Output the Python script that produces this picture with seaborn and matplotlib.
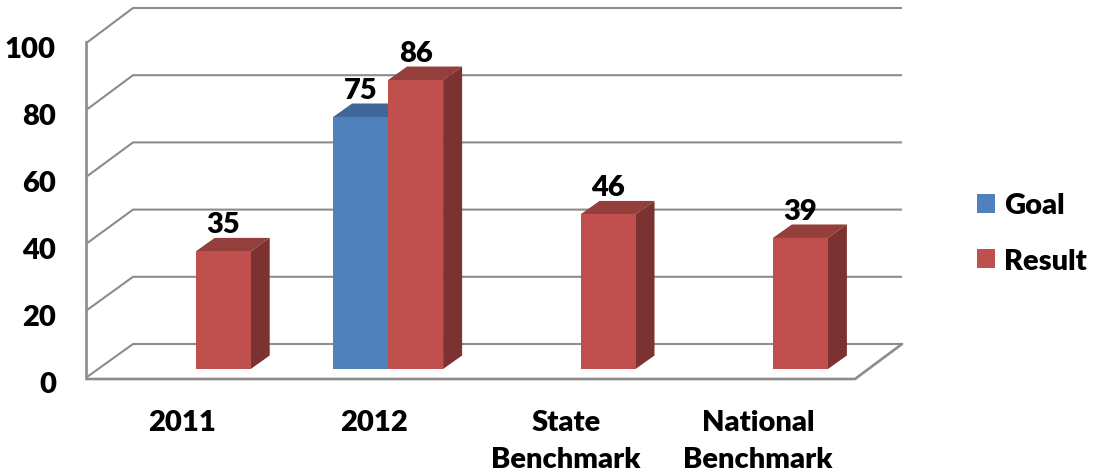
import numpy as np
import pandas as pd
import matplotlib
matplotlib.use('Agg')
import matplotlib.pyplot as plt
from matplotlib.patches import Polygon
import seaborn as sns

categories = ['2011', '2012', 'State\nBenchmark', 'National\nBenchmark']
goal = [np.nan, 75, np.nan, np.nan]
result = [35, 86, 46, 39]
y_ticks = [0, 20, 40, 60, 80, 100]

W, H = 1093, 477
BLUE, RED = '#4F81BD', '#C0504D'
TOPS = {BLUE: '#3F6797', RED: '#953F3C'}
SIDES = {BLUE: '#355680', RED: '#7C3230'}
GREY = '#8C8C8C'
FONT = 'Lato'
FS = 21
WEIGHT = 'heavy'

sns.set_theme(style='white')
plt.rcParams['font.family'] = [FONT, 'DejaVu Sans']

df = pd.DataFrame({'cat': categories * 2,
                   'series': ['Goal'] * 4 + ['Result'] * 4,
                   'value': goal + result})

fig = plt.figure(figsize=(W / 100, H / 100), dpi=100)

# frame of the fake 3d box, in pixel coords
bg = fig.add_axes([0, 0, 1, 1])
bg.set_xlim(0, W)
bg.set_ylim(H, 0)
bg.axis('off')

for t in y_ticks:
    front = 378 - 3.345 * t
    back = 345 - 3.36 * t
    bg.plot([87, 133, 902], [front, back, back], color=GREY, lw=1.5,
            solid_joinstyle='miter', solid_capstyle='butt')
    bg.text(56, front + 7, str(t), ha='right', va='center',
            fontsize=FS, fontweight=WEIGHT, color='black')
bg.plot([86.5, 86.5, 855, 902], [43, 380, 380, 345], color=GREY, lw=1.9,
        solid_joinstyle='miter')

for cat, x in zip(categories, [182, 374, 566, 758]):
    bg.text(x, 410, cat, ha='center', va='top', fontsize=FS, fontweight=WEIGHT,
            color='black', linespacing=1.52)

# bars, axes placed so that 0 is the bottom edge of the front faces
base = 370
ax = fig.add_axes([0, (H - base) / H, 1, base / H])
ax.patch.set_alpha(0)
sns.barplot(df, x='cat', y='value', hue='series', hue_order=['Goal', 'Result'],
            palette=[BLUE, RED], width=110 / 192.4, gap=0, saturation=1,
            order=categories, edgecolor='none', linewidth=0, ax=ax)
ax.set_xlim(-195.7 / 192.4, (W - 195.7) / 192.4)
ax.set_ylim(0, base / 3.36)
ax.axis('off')

handles, labels = ax.get_legend_handles_labels()
ax.get_legend().remove()

dx = 19 / 192.4
dy = 13.5 / 3.36
for cont, color in zip(ax.containers, [BLUE, RED]):
    for bar in cont:
        h = bar.get_height()
        if not np.isfinite(h):
            continue
        x0 = bar.get_x()
        x1 = x0 + bar.get_width()
        bar.set_zorder(3)
        ax.add_patch(Polygon([(x0, h), (x1, h), (x1 + dx, h + dy), (x0 + dx, h + dy)],
                             facecolor=TOPS[color], edgecolor='none', zorder=2))
        ax.add_patch(Polygon([(x1, 0), (x1 + dx, dy), (x1 + dx, h + dy), (x1, h)],
                             facecolor=SIDES[color], edgecolor='none', zorder=2))
        ax.annotate(f'{h:.0f}', xy=((x0 + x1) / 2, h + dy), xytext=(0, 10),
                    textcoords='offset points', ha='center', va='center',
                    fontsize=FS, fontweight=WEIGHT, color='black', zorder=5)

fig.legend(handles, labels, loc='center left', bbox_to_anchor=(971 / W, 1 - 234 / H),
           frameon=False, prop={'size': FS, 'weight': WEIGHT}, labelcolor='black',
           handlelength=0.62, handleheight=0.62, handletextpad=0.3, labelspacing=1.0,
           borderpad=0.2, borderaxespad=0)

fig.savefig('out.png', dpi=100)
